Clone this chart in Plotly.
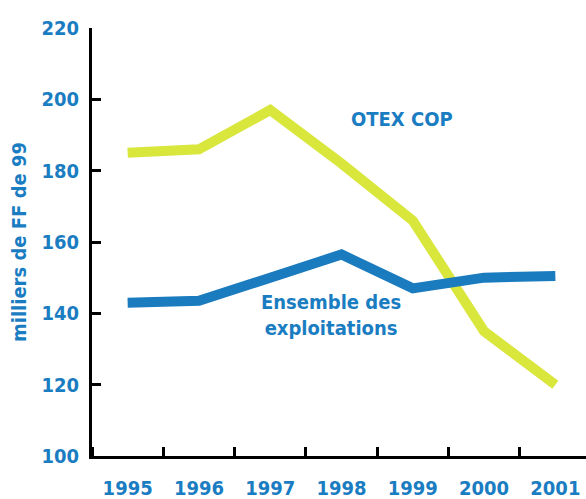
import plotly.graph_objects as go

years = [1995, 1996, 1997, 1998, 1999, 2000, 2001]
otex_cop = [185, 186, 197, 182, 166, 135, 120]
ensemble = [143, 143.5, 150, 156.5, 147, 150, 150.5]
y_ticks = [100, 120, 140, 160, 180, 200, 220]

BLUE = "#1a7bbf"
YELLOW = "#d9e63c"
TXT = "#1a7dc2"
FONT = "DejaVu Sans Condensed, Liberation Sans Narrow, Roboto, sans-serif"
W = "bold"

fig = go.Figure()
fig.add_trace(go.Scatter(x=years, y=otex_cop, mode="lines",
                         line=dict(color=YELLOW, width=10), showlegend=False))
fig.add_trace(go.Scatter(x=years, y=ensemble, mode="lines",
                         line=dict(color=BLUE, width=10), showlegend=False))

fig.add_annotation(x=1998.85, y=194.5, text="OTEX COP", showarrow=False,
                   font=dict(family=FONT, size=20, color=TXT, weight=W))
fig.add_annotation(x=1997.85, y=139.5, text="Ensemble des<br>exploitations", showarrow=False,
                   font=dict(family=FONT, size=20, color=TXT, weight=W))

fig.update_layout(
    width=586, height=499,
    margin=dict(l=92, r=0, t=28, b=43),
    plot_bgcolor="white", paper_bgcolor="white",
    font=dict(family=FONT, color=TXT, size=20, weight=W),
    xaxis=dict(range=[1994.5, 2001.43], tickvals=years, ticktext=[str(y) for y in years],
               ticks="", showgrid=False, zeroline=False, automargin=False,
               showline=True, linecolor="black", linewidth=3,
               ticklabelstandoff=12,
               minor=dict(tick0=1995.5, dtick=1, ticks="inside", ticklen=9,
                          tickwidth=3, tickcolor="black", showgrid=False),
               tickfont=dict(family=FONT, size=20, color=TXT, weight=W)),
    yaxis=dict(range=[100, 220], tickvals=y_ticks, ticks="inside", ticklen=9,
               tickwidth=3, tickcolor="black", showgrid=False, zeroline=False,
               showline=True, linecolor="black", linewidth=3, automargin=False,
               ticklabelstandoff=6,
               tickfont=dict(family=FONT, size=20, color=TXT, weight=W),
               title=dict(text="milliers de FF de 99", standoff=10,
                          font=dict(family=FONT, size=20, color=TXT, weight=W))),
)

fig.write_html("out.html", config={"displayModeBar": False},
               post_script="document.body.style.margin='0';")
